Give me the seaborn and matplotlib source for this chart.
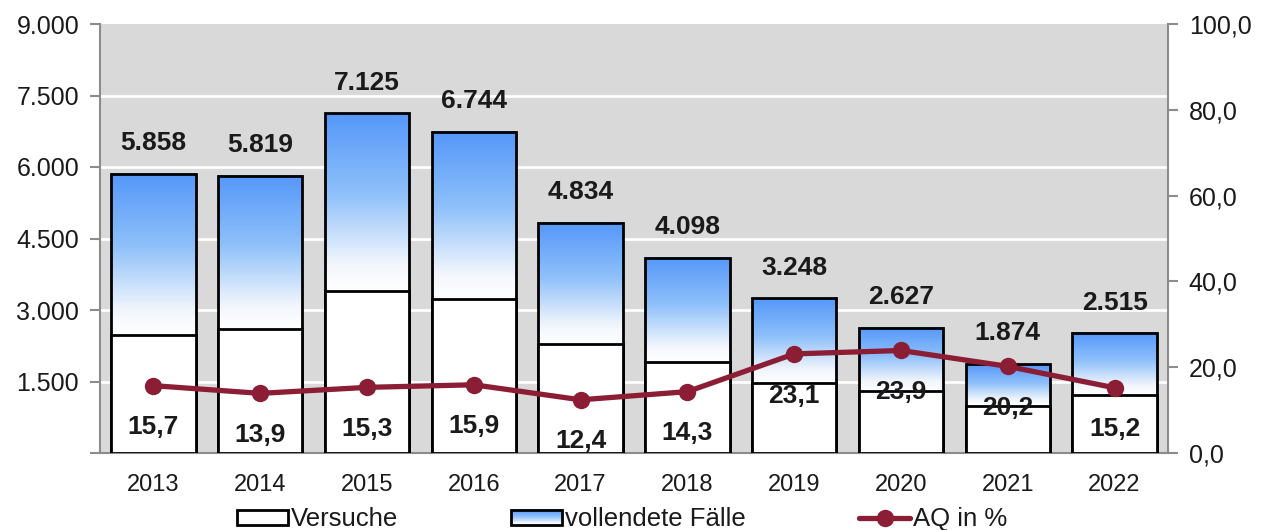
import numpy as np
import pandas as pd
import matplotlib
matplotlib.use("Agg")
import matplotlib.pyplot as plt
import seaborn as sns
from matplotlib.colors import LinearSegmentedColormap
from matplotlib.patches import Rectangle
from matplotlib.lines import Line2D
from matplotlib.legend_handler import HandlerBase

years = ["2013", "2014", "2015", "2016", "2017", "2018", "2019", "2020", "2021", "2022"]
totals = [5858, 5819, 7125, 6744, 4834, 4098, 3248, 2627, 1874, 2515]
versuche = [2475, 2600, 3405, 3225, 2280, 1900, 1470, 1295, 995, 1210]
aq = [15.7, 13.9, 15.3, 15.9, 12.4, 14.3, 23.1, 23.9, 20.2, 15.2]
left_ticks = [0, 1500, 3000, 4500, 6000, 7500, 9000]
right_ticks = [0, 20, 40, 60, 80, 100]

sns.set_theme(style="white")
plt.rcParams['font.family'] = ['Liberation Sans', 'DejaVu Sans']

LINE_COLOR = "#8B1E35"
GRID_BG = "#D9D9D9"
SPINE = "#8C8C8C"
TXT = "#1a1a1a"
cmap = LinearSegmentedColormap.from_list("g", [(0, "#FFFFFF"), (0.15, "#F2F6FC"), (0.55, "#8EC0FA"), (1, "#5597F9")])

df = pd.DataFrame({"year": years, "total": totals, "versuche": versuche, "aq": aq})

fig = plt.figure(figsize=(12.77, 5.30), dpi=100)
ax = fig.add_axes([100/1277, (530-453)/530, (1168-100)/1277, (453-24)/530])
ax.set_facecolor(GRID_BG)

# total bars (outline); a gradient is clipped into the "vollendete" part
sns.barplot(data=df, x="year", y="total", ax=ax, width=0.79, color="none",
            edgecolor="black", linewidth=2, zorder=4, saturation=1)
total_patches = list(ax.patches)
grad = np.linspace(0, 1, 256).reshape(-1, 1)
for p, v, t in zip(total_patches, versuche, totals):
    x0 = p.get_x(); w = p.get_width()
    ax.imshow(grad, cmap=cmap, origin="lower", aspect="auto",
              extent=(x0, x0 + w, v, t), zorder=2, interpolation="bilinear")
    p.set_facecolor("none")

sns.barplot(data=df, x="year", y="versuche", ax=ax, width=0.79, color="white",
            edgecolor="black", linewidth=2, zorder=5, saturation=1)

ax.set_xlim(-0.5, len(years) - 0.5)
ax.set_ylim(0, 9000)
ax.set_yticks(left_ticks)
ax.set_yticklabels(["" if t == 0 else f"{t:,}".replace(",", ".") for t in left_ticks])
for t in left_ticks[1:-1]:
    ax.axhline(t, color="white", lw=2, zorder=1)
ax.set_xlabel(""); ax.set_ylabel("")

for i, t in enumerate(totals):
    ax.annotate(f"{t:,}".replace(",", "."), (i, t), xytext=(0, 22), textcoords="offset points",
                ha="center", va="center", fontsize=19, fontweight="bold", color=TXT, zorder=10)

ax.tick_params(axis="x", which="major", length=0, labelsize=17, pad=15, colors=TXT)
ax.set_xticks(np.arange(-0.5, len(years), 1.0), minor=True)
ax.tick_params(axis="x", which="minor", length=7, width=1.5, color=SPINE, direction="out")
ax.tick_params(axis="y", length=7, width=1.5, color=SPINE, direction="out", labelsize=18, pad=8,
               labelcolor=TXT, left=True)
for s in ["top", "right"]:
    ax.spines[s].set_visible(False)
for s in ["left", "bottom"]:
    ax.spines[s].set_color(SPINE); ax.spines[s].set_linewidth(1.5)

ax2 = ax.twinx()
xs = np.arange(len(years))
sns.lineplot(x=xs, y=aq, ax=ax2, color=LINE_COLOR, lw=3.8, marker="o", markersize=12.5,
             markeredgewidth=0, zorder=6)
ax2.set_ylim(0, 100)
ax2.set_yticks(right_ticks)
ax2.set_yticklabels([f"{t:.1f}".replace(".", ",") for t in right_ticks])
ax2.tick_params(axis="y", length=7, width=1.5, color=SPINE, direction="out", labelsize=18, pad=8,
                labelcolor=TXT, right=True)
for s in ["top", "left", "bottom"]:
    ax2.spines[s].set_visible(False)
ax2.spines["right"].set_color(SPINE); ax2.spines["right"].set_linewidth(1.5)
for i, a in enumerate(aq):
    ax2.annotate(f"{a:.1f}".replace(".", ","), (i, a), xytext=(0, -30), textcoords="offset points",
                 ha="center", va="center", fontsize=19, fontweight="bold", color=TXT, zorder=10)
ax2.set_xlim(-0.5, len(years) - 0.5)


class GradHandler(HandlerBase):
    def create_artists(self, legend, orig_handle, xdescent, ydescent, width, height, fontsize, trans):
        arts = []
        n = 24
        for k in range(n):
            arts.append(Rectangle((-xdescent, -ydescent + height * k / n), width, height / n + 0.3,
                                  facecolor=cmap((k + 0.5) / n), edgecolor="none", transform=trans))
        arts.append(Rectangle((-xdescent, -ydescent), width, height, facecolor="none",
                              edgecolor="black", lw=2, transform=trans))
        return arts


h1 = Rectangle((0, 0), 1, 1, facecolor="white", edgecolor="black", lw=2)
h2 = Rectangle((0, 0), 1, 1)
h3 = Line2D([], [], color=LINE_COLOR, lw=3.8, marker="o", markersize=12.5, markeredgewidth=0)
fig.legend([h1, h2, h3], ["Versuche", "vollendete Fälle", "AQ in %"],
           handler_map={h2: GradHandler()}, loc="center", bbox_to_anchor=(0.487, 0.02),
           ncol=3, frameon=False, fontsize=18.5, handlelength=2.0, handleheight=0.55,
           handletextpad=0.1, columnspacing=4.4, labelcolor=TXT)

fig.savefig("out.png", dpi=100)
